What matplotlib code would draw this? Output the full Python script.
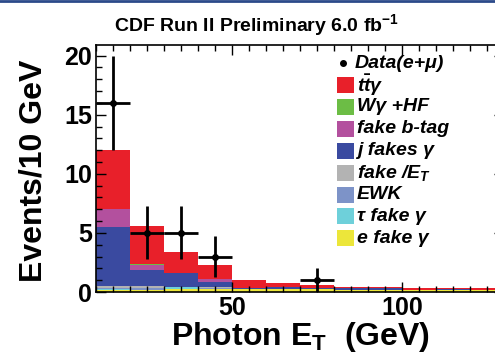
import numpy as np
import matplotlib.pyplot as plt
from matplotlib.patches import Rectangle
from matplotlib.lines import Line2D

plt.rcParams['font.family'] = 'Liberation Sans'
plt.rcParams['font.weight'] = 'bold'
plt.rcParams['mathtext.fontset'] = 'custom'
plt.rcParams['mathtext.rm'] = 'Liberation Sans:bold'
plt.rcParams['mathtext.it'] = 'Liberation Sans:bold:italic'
plt.rcParams['mathtext.bf'] = 'Liberation Sans:bold'

W, H = 495, 361

# photon E_T bins, 10 GeV wide
edges = np.arange(10, 140, 10)
centers = edges[:-1] + 5

# stacked backgrounds, bottom to top
e_fake = [0.2, 0.2, 0.25, 0.25, 0.25, 0.25, 0.25, 0.2, 0.2, 0.2, 0.2, 0.2]
tau_fake = [0.05, 0.0, 0.2, 0.0, 0.0, 0.0, 0.0, 0.0, 0.0, 0.0, 0.0, 0.0]
ewk = [0.1, 0.15, 0.0, 0.05, 0.0, 0.0, 0.0, 0.0, 0.0, 0.0, 0.0, 0.0]
fake_met = [0.15, 0.15, 0.0, 0.15, 0.0, 0.0, 0.0, 0.0, 0.0, 0.0, 0.0, 0.0]
j_fakes = [5.0, 1.35, 1.15, 0.42, 0.05, 0.2, 0.05, 0.1, 0.1, 0.0, 0.05, 0.0]
fake_btag = [1.5, 0.45, 0.05, 0.23, 0.0, 0.0, 0.0, 0.0, 0.0, 0.0, 0.0, 0.0]
wg_hf = [0.0, 0.1, 0.0, 0.0, 0.0, 0.0, 0.0, 0.0, 0.0, 0.0, 0.0, 0.0]
ttg = [5.0, 3.2, 1.75, 1.2, 0.7, 0.34, 0.3, 0.15, 0.15, 0.15, 0.1, 0.15]

# observed events
data_x = [15, 25, 35, 45, 75]
data_y = [16, 5, 5, 3, 1]

stack = [
    (e_fake, '#ece63a', 'e fake γ'),
    (tau_fake, '#6ed0da', 'τ fake γ'),
    (ewk, '#7d93c8', 'EWK'),
    (fake_met, '#b3b3b3', r'fake /$E_{T}$'),
    (j_fakes, '#3a4aa0', 'j fakes γ'),
    (fake_btag, '#b3509e', 'fake b-tag'),
    (wg_hf, '#6cbd45', 'Wγ +HF'),
    (ttg, '#e8202a', r'$t\bar{t}$γ'),
]

fig = plt.figure(figsize=(W / 100, H / 100), dpi=100)
ax = fig.add_axes([96 / W, 1 - 292 / H, (504 - 96) / W, (292 - 45) / H])

bottom = np.zeros(len(centers))
for vals, col, lab in stack:
    ax.bar(centers, vals, width=10, bottom=bottom, color=col, linewidth=0)
    bottom += np.array(vals)

ax.errorbar(data_x, data_y, xerr=5, yerr=np.sqrt(data_y), fmt='o', color='black',
            ms=4, elinewidth=2, capsize=0)

ax.set_xlim(10, 130)
ax.set_ylim(0, 20.9)
ax.set_xticks([50, 100])
ax.set_xticks(np.arange(10, 131, 5), minor=True)
ax.set_yticks([0, 5, 10, 15, 20])
ax.set_yticks(np.arange(0, 21, 1), minor=True)
ax.tick_params(which='both', direction='in', top=True, right=True, width=1)
ax.tick_params(which='major', length=7, labelsize=18, pad=3)
ax.tick_params(which='minor', length=4)
for s in ax.spines.values():
    s.set_linewidth(1.2)

fig.text(34 / W, 1 - 171 / H, 'Events/10 GeV', fontsize=23, fontweight='bold',
         rotation=90, ha='center', va='center')
fig.text(300 / W, 1 - 337 / H, r'Photon E$_{\mathrm{T}}$  (GeV)', fontsize=23,
         fontweight='bold', ha='center', va='center')
fig.text(257 / W, 1 - 25 / H, r'CDF Run II Preliminary 6.0 fb$^{\mathrm{-1}}$',
         fontsize=14, fontweight='bold', ha='center', va='center')

# legend, laid out by hand in pixel rows
leg_font = dict(fontsize=14, fontweight='bold', fontstyle='italic', va='center')
fig.add_artist(Line2D([343 / W], [1 - 63 / H], marker='o', color='black', ms=4,
                      transform=fig.transFigure))
fig.text(355 / W, 1 - 63 / H, 'Data(e+μ)', **leg_font)
for i, (vals, col, lab) in enumerate(reversed(stack)):
    yc = 85 + 21.9 * i
    fig.add_artist(Rectangle((337 / W, 1 - (yc + 8) / H), 17 / W, 16 / H,
                             facecolor=col, edgecolor='none', transform=fig.transFigure))
    fig.text(357 / W, 1 - yc / H, lab, **leg_font)

# thin frame strip along the top edge
fig.add_artist(Line2D([0, 1], [0.997, 0.997], transform=fig.transFigure,
                      color='#2b4a8a', lw=2))

fig.savefig('out.png', dpi=100)
